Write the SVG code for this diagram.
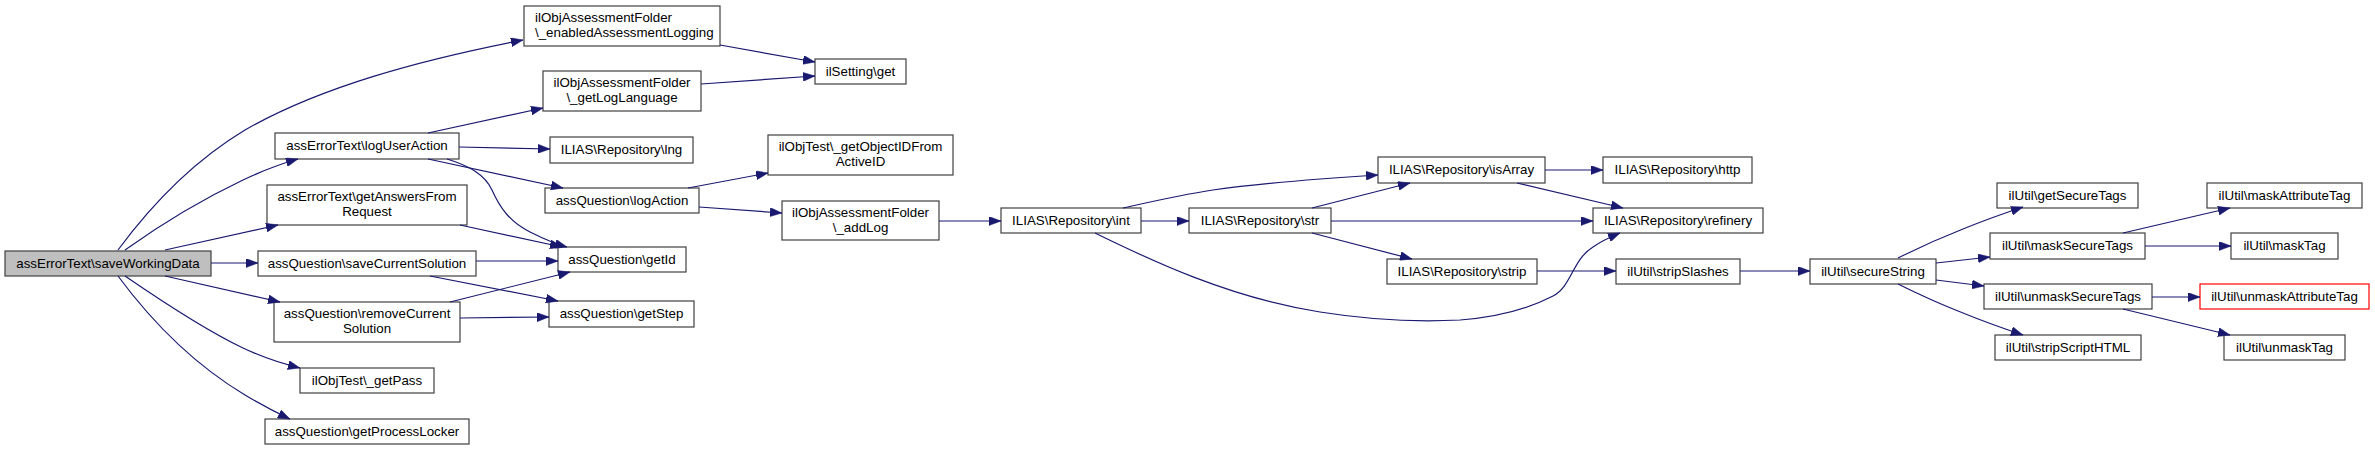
<svg xmlns="http://www.w3.org/2000/svg" width="2375" height="450" viewBox="0 0 2375 450">
<style>
.n rect{fill:#ffffff;stroke:#404040;stroke-width:1.2}
.n text{font-family:"Liberation Sans",Arial,Helvetica,sans-serif;font-size:13.33px;fill:#000000;text-anchor:middle}
.n text.l{text-anchor:start}
#n_saveWorkingData rect{fill:#bfbfbf}
#n_unmaskAttributeTag rect{stroke:#ff0000}
.e path{fill:none;stroke:#191970;stroke-width:1.2;marker-end:url(#ah)}
</style>
<defs>
<marker id="ah" viewBox="0 0 12 9" refX="12" refY="4.5" markerWidth="12" markerHeight="9" markerUnits="userSpaceOnUse" orient="auto">
<path d="M0,0 L12,4.5 L0,9 z" fill="#191970" stroke="#191970" stroke-width="0.5"/>
</marker>
</defs>
<rect x="0" y="0" width="2375" height="450" fill="#ffffff"/>
<g id="nodes">
<g class="n" id="n_saveWorkingData"><rect x="5" y="251" width="206" height="25"/><text x="108" y="267.5">assErrorText\saveWorkingData</text></g>
<g class="n" id="n_logUserAction"><rect x="275" y="133" width="184" height="26"/><text x="367" y="150">assErrorText\logUserAction</text></g>
<g class="n" id="n_getAnswersFromRequest"><rect x="267" y="185" width="200" height="40"/><text x="367" y="201">assErrorText\getAnswersFrom</text><text x="367" y="216">Request</text></g>
<g class="n" id="n_saveCurrentSolution"><rect x="258" y="251" width="218" height="25"/><text x="367" y="267.5">assQuestion\saveCurrentSolution</text></g>
<g class="n" id="n_removeCurrentSolution"><rect x="274" y="302" width="186" height="40"/><text x="367" y="318">assQuestion\removeCurrent</text><text x="367" y="333">Solution</text></g>
<g class="n" id="n_getPass"><rect x="300" y="368" width="134" height="25"/><text x="367" y="384.5">ilObjTest\_getPass</text></g>
<g class="n" id="n_getProcessLocker"><rect x="265" y="419" width="204" height="25"/><text x="367" y="435.5">assQuestion\getProcessLocker</text></g>
<g class="n" id="n_enabledAssessmentLogging"><rect x="524" y="6" width="196" height="40"/><text class="l" x="535" y="22">ilObjAssessmentFolder</text><text class="l" x="535" y="37">\_enabledAssessmentLogging</text></g>
<g class="n" id="n_ilSettingGet"><rect x="815" y="59" width="91" height="25"/><text x="860.5" y="75.5">ilSetting\get</text></g>
<g class="n" id="n_getLogLanguage"><rect x="543" y="71" width="158" height="40"/><text x="622" y="87">ilObjAssessmentFolder</text><text x="622" y="102">\_getLogLanguage</text></g>
<g class="n" id="n_lng"><rect x="550" y="137" width="143" height="26"/><text x="621.5" y="154">ILIAS\Repository\lng</text></g>
<g class="n" id="n_getObjectIDFromActiveID"><rect x="768" y="135" width="185" height="40"/><text x="860.5" y="151">ilObjTest\_getObjectIDFrom</text><text x="860.5" y="166">ActiveID</text></g>
<g class="n" id="n_logAction"><rect x="545" y="188" width="154" height="25"/><text x="622" y="204.5">assQuestion\logAction</text></g>
<g class="n" id="n_addLog"><rect x="782" y="201" width="157" height="39"/><text x="860.5" y="217">ilObjAssessmentFolder</text><text x="860.5" y="232">\_addLog</text></g>
<g class="n" id="n_getId"><rect x="558" y="247" width="128" height="25"/><text x="622" y="263.5">assQuestion\getId</text></g>
<g class="n" id="n_getStep"><rect x="549" y="301" width="145" height="26"/><text x="621.5" y="318">assQuestion\getStep</text></g>
<g class="n" id="n_int"><rect x="1001" y="208" width="140" height="25"/><text x="1071" y="224.5">ILIAS\Repository\int</text></g>
<g class="n" id="n_str"><rect x="1189" y="208" width="142" height="25"/><text x="1260" y="224.5">ILIAS\Repository\str</text></g>
<g class="n" id="n_isArray"><rect x="1378" y="157" width="167" height="26"/><text x="1461.5" y="174">ILIAS\Repository\isArray</text></g>
<g class="n" id="n_strip"><rect x="1387" y="259" width="150" height="25"/><text x="1462" y="275.5">ILIAS\Repository\strip</text></g>
<g class="n" id="n_http"><rect x="1603" y="157" width="149" height="26"/><text x="1677.5" y="174">ILIAS\Repository\http</text></g>
<g class="n" id="n_refinery"><rect x="1593" y="208" width="170" height="25"/><text x="1678" y="224.5">ILIAS\Repository\refinery</text></g>
<g class="n" id="n_stripSlashes"><rect x="1616" y="259" width="124" height="25"/><text x="1678" y="275.5">ilUtil\stripSlashes</text></g>
<g class="n" id="n_secureString"><rect x="1810" y="259" width="126" height="25"/><text x="1873" y="275.5">ilUtil\secureString</text></g>
<g class="n" id="n_getSecureTags"><rect x="1997" y="183" width="141" height="25"/><text x="2067.5" y="199.5">ilUtil\getSecureTags</text></g>
<g class="n" id="n_maskSecureTags"><rect x="1990" y="233" width="155" height="26"/><text x="2067.5" y="250">ilUtil\maskSecureTags</text></g>
<g class="n" id="n_unmaskSecureTags"><rect x="1984" y="284" width="168" height="25"/><text x="2068" y="300.5">ilUtil\unmaskSecureTags</text></g>
<g class="n" id="n_stripScriptHTML"><rect x="1995" y="335" width="146" height="25"/><text x="2068" y="351.5">ilUtil\stripScriptHTML</text></g>
<g class="n" id="n_maskAttributeTag"><rect x="2207" y="183" width="155" height="25"/><text x="2284.5" y="199.5">ilUtil\maskAttributeTag</text></g>
<g class="n" id="n_maskTag"><rect x="2231" y="233" width="107" height="26"/><text x="2284.5" y="250">ilUtil\maskTag</text></g>
<g class="n" id="n_unmaskAttributeTag"><rect x="2200" y="284" width="169" height="25"/><text x="2284.5" y="300.5">ilUtil\unmaskAttributeTag</text></g>
<g class="n" id="n_unmaskTag"><rect x="2224" y="335" width="121" height="25"/><text x="2284.5" y="351.5">ilUtil\unmaskTag</text></g>
</g>
<g class="e" id="connectors">
<path d="M118,250 C155,200 195,160 245,130 C320,87 420,60 523,40"/>
<path d="M125,250 C160,225 205,198 243,180 C262,171 280,164 298,159"/>
<path d="M165,250 L278,225"/>
<path d="M211,263 L258,263"/>
<path d="M165,276 L280,302"/>
<path d="M125,276 C160,300 205,330 243,348 C262,357 280,363 300,368"/>
<path d="M118,276 C155,326 195,365 245,395 C260,404 275,412 290,419"/>
<path d="M428,133 L543,108"/>
<path d="M459,147 L550,149"/>
<path d="M428,159 L563,188"/>
<path d="M447,159 C470,166 485,175 492,190 C500,208 510,222 530,232 C542,238 552,243 567,247"/>
<path d="M460,225 L562,247"/>
<path d="M476,261 L558,261"/>
<path d="M430,276 L558,301"/>
<path d="M450,302 L570,272"/>
<path d="M460,318 L549,317"/>
<path d="M720,45 L815,62"/>
<path d="M701,84 L815,76"/>
<path d="M688,188 L768,173"/>
<path d="M699,207 L782,213"/>
<path d="M939,221 L1001,221"/>
<path d="M1123,208 C1150,202 1180,195 1213,190 C1270,182 1330,178 1378,175"/>
<path d="M1141,221 L1189,221"/>
<path d="M1095,233 C1150,260 1230,298 1320,312 C1370,320 1420,322 1460,320 C1500,317 1530,308 1553,296 C1572,286 1572,260 1593,247 C1600,242 1608,238 1620,233"/>
<path d="M1312,208 L1410,183"/>
<path d="M1331,221 L1593,221"/>
<path d="M1312,233 L1412,259"/>
<path d="M1545,170 L1603,170"/>
<path d="M1517,183 L1623,208"/>
<path d="M1537,271 L1616,271"/>
<path d="M1740,271 L1810,271"/>
<path d="M1898,258 C1920,247 1940,238 1963,229 C1985,220 2005,213 2023,207"/>
<path d="M1936,263 L1990,257"/>
<path d="M1936,280 L1984,286"/>
<path d="M1898,284 C1920,295 1940,304 1963,313 C1985,322 2005,329 2023,335"/>
<path d="M2123,233 L2230,208"/>
<path d="M2145,246 L2231,246"/>
<path d="M2152,297 L2200,297"/>
<path d="M2123,309 L2230,335"/>
</g>
</svg>
